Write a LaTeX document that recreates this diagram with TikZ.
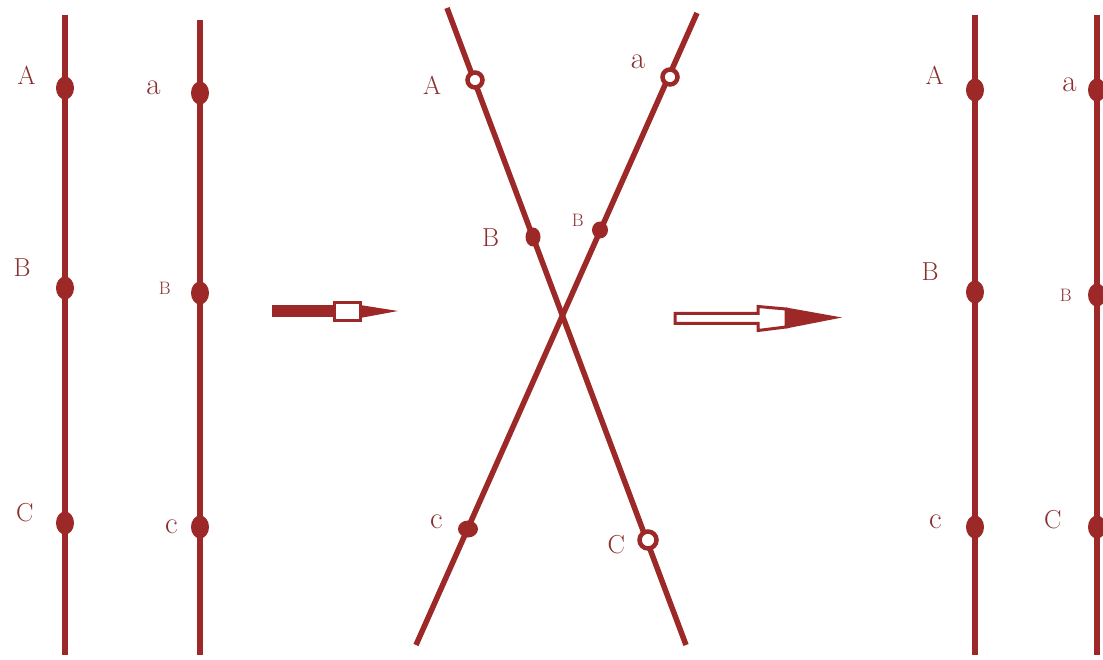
\documentclass[tikz,border=0pt]{standalone}
\usetikzlibrary{positioning,shapes.geometric}
\definecolor{chrom}{HTML}{9C2828}
\definecolor{chromtext}{HTML}{8A2E2E}

\begin{document}
\begin{tikzpicture}[x=1pt, y=-1pt,
  chr/.style={line width=5.5pt, color=chrom},
  knot/.style={ellipse, fill=chrom, inner sep=0pt, minimum width=18pt, minimum height=23pt},
  ring/.style={circle, draw=chrom, fill=white, line width=4.5pt, inner sep=0pt, minimum size=15pt},
  lab/.style={text=chromtext, font=\fontsize{26}{26}\selectfont, inner sep=0pt},
  low/.style={lab, font=\fontsize{31}{31}\selectfont},
  tinylab/.style={lab, font=\fontsize{18}{18}\selectfont},
  shaft/.style={draw=chrom, line width=3pt, fill=white, line join=miter}
]
\useasboundingbox (0,0) rectangle (1103,660);

% left pair of chromosomes
\draw[chr] (65,15) -- (65,655);
\draw[chr] (200,20) -- (200,655);
\node[knot] (A1) at (65,88) {};
\node[knot] (B1) at (65,288) {};
\node[knot] (C1) at (65,523) {};
\node[knot] (a2) at (200,93) {};
\node[knot] (b2) at (200,293) {};
\node[knot] (c2) at (200,527) {};
\node[lab, left=20pt of A1, yshift=13pt] {A};
\node[lab, left=25pt of B1, yshift=20pt] {B};
\node[lab, left=22pt of C1, yshift=10pt] {C};
\node[low, left=30pt of a2, yshift=5pt] {a};
\node[tinylab, left=20pt of b2, yshift=5pt] {B};
\node[low, left=13pt of c2] {c};

% first arrow
\fill[chrom] (272,305) rectangle (334,317);
\draw[shaft] (334,302.5) rectangle (360,320.5);
\fill[chrom] (360,305) -- (398,311) -- (360,318) -- cycle;

% crossing over
\draw[chr] (447,8) -- (686,645);
\draw[chr] (697,13) -- (416,645);
\node[ring] (A3) at (475,80) {};
\node[knot, minimum width=15pt, minimum height=19pt] (B3) at (533,237) {};
\node[ring, minimum size=17pt] (C3) at (648,540) {};
\node[ring] (a4) at (670,77) {};
\node[knot, minimum width=16pt, minimum height=17pt] (b4) at (600,230) {};
\node[knot, minimum width=20pt, minimum height=17pt] (c4) at (468,529) {};
\node[lab, left=24pt of A3, yshift=-5pt] {A};
\node[lab, left=26pt of B3, yshift=-1pt] {B};
\node[lab, left=12pt of C3, yshift=-5pt] {C};
\node[low, left=15pt of a4, yshift=15pt] {a};
\node[tinylab, left=8pt of b4, yshift=10pt] {B};
\node[low, left=15pt of c4, yshift=7pt] {c};

% second arrow
\draw[shaft] (675,313.5) -- (758,313.5) -- (758,306.5) -- (786,309) -- (786,327)
  -- (758,330.5) -- (758,323.5) -- (675,323.5) -- cycle;
\fill[chrom] (786,307.5) -- (842,317.5) -- (786,328.5) -- cycle;

% right pair after exchange
\draw[chr] (975,15) -- (975,655);
\draw[chr] (1097,15) -- (1097,655);
\node[knot] (A5) at (975,90) {};
\node[knot] (B5) at (975,292) {};
\node[knot] (c5) at (975,527) {};
\node[knot] (a6) at (1097,90) {};
\node[knot] (b6) at (1097,295) {};
\node[knot] (C6) at (1097,527) {};
\node[lab, left=22pt of A5, yshift=15pt] {A};
\node[lab, left=27pt of B5, yshift=20pt] {B};
\node[low, left=24pt of c5, yshift=5pt] {c};
\node[low, left=11pt of a6, yshift=5pt] {a};
\node[tinylab, left=16pt of b6] {B};
\node[lab, left=26pt of C6, yshift=7pt] {C};
\end{tikzpicture}
\end{document}
